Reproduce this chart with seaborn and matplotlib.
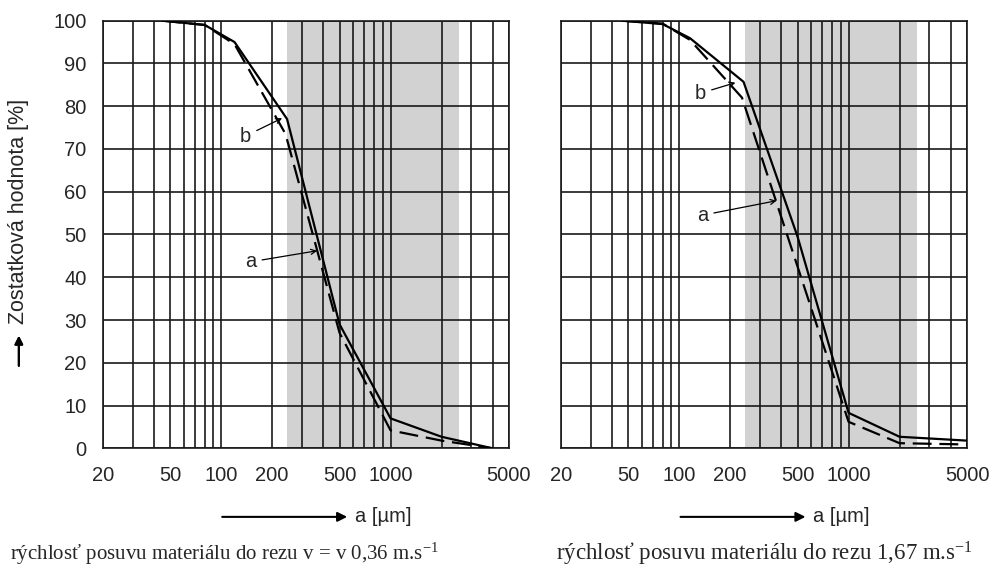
import matplotlib
matplotlib.use('Agg')
import matplotlib.pyplot as plt
from matplotlib.ticker import NullFormatter
import seaborn as sns
import pandas as pd

# velkost castic a [um] a zostatkova hodnota [%]
x_left_b = [45, 80, 120, 245, 500, 1000, 2000, 4000]
y_left_b = [100, 99, 95, 77, 29, 7, 2.7, 0]
x_left_a = [45, 80, 120, 240, 500, 1000, 2000, 4000]
y_left_a = [100, 99, 94.5, 73.5, 27, 4.2, 1.8, 0]

x_right_b = [46, 80, 116, 240, 500, 1000, 2000, 5000]
y_right_b = [100, 99.2, 95.9, 85.7, 49.5, 8.3, 2.7, 1.8]
x_right_a = [46, 80, 116, 235, 500, 1000, 2000, 5000]
y_right_a = [100, 99.3, 95.5, 82, 42.5, 6.2, 1.2, 0.9]

shade = (245, 2550)
major_x = [20, 50, 100, 200, 500, 1000, 5000]
minor_x = [30, 40, 60, 70, 80, 90, 300, 400, 600, 700, 800, 900, 2000, 3000, 4000]
y_ticks = list(range(0, 101, 10))

captions = ['rýchlosť posuvu materiálu do rezu v = v 0,36 m.s$\\mathrm{^{-1}}$',
            'rýchlosť posuvu materiálu do rezu 1,67 m.s$\\mathrm{^{-1}}$']

# (text, text pos, arrow tip) for labels a/b
notes_left = [('b', (139, 73), (229, 77.2)), ('a', (149, 43.6), (369, 46.2))]
notes_right = [('b', (133, 83), (215, 85.5)), ('a', (137, 54.5), (376, 57.9))]

sns.set_style('white')
plt.rcParams['font.family'] = ['Liberation Sans', 'DejaVu Sans']
plt.rcParams['mathtext.fontset'] = 'custom'
plt.rcParams['mathtext.rm'] = 'Liberation Serif'

fig = plt.figure(figsize=(9.92, 5.68), dpi=100)
ax1 = fig.add_axes([0.1035, 0.2107, 0.4096, 0.7529])
ax2 = fig.add_axes([0.5652, 0.2107, 0.4096, 0.7529])

gc = '#1a1a1a'
panels = [(ax1, x_left_a, y_left_a, x_left_b, y_left_b, notes_left),
          (ax2, x_right_a, y_right_a, x_right_b, y_right_b, notes_right)]

for ax, xa, ya, xb, yb, notes in panels:
    df = pd.DataFrame({'a_um': xb + xa,
                       'zost': yb + ya,
                       'krivka': ['b'] * len(xb) + ['a'] * len(xa)})
    ax.axvspan(shade[0], shade[1], color='#d2d2d2', lw=0, zorder=0)
    sns.lineplot(data=df, x='a_um', y='zost', style='krivka',
                 dashes={'b': '', 'a': (8.5, 3.5)}, color='black',
                 lw=1.6, legend=False, ax=ax, zorder=3)
    ax.set_xscale('log')
    ax.set_xlim(20, 5000)
    ax.set_ylim(0, 100)
    ax.set_xticks(major_x, labels=[str(v) for v in major_x])
    ax.set_xticks(minor_x, minor=True)
    ax.xaxis.set_minor_formatter(NullFormatter())
    ax.set_yticks(y_ticks)
    ax.set_axisbelow(True)
    ax.grid(which='both', axis='x', color=gc, lw=1.2)
    ax.grid(which='major', axis='y', color=gc, lw=1.2)
    ax.tick_params(which='major', axis='y', direction='out', length=6,
                   width=1.2, color=gc, pad=5.5, labelsize=14.5)
    ax.tick_params(which='major', axis='x', direction='out', length=4.5,
                   width=1.2, color=gc, pad=8, labelsize=14.5)
    ax.tick_params(which='minor', length=0)
    for s in ax.spines.values():
        s.set_color(gc)
        s.set_linewidth(1.2)
    ax.set_xlabel('')
    ax.set_ylabel('')
    for txt, pos, tip in notes:
        ax.annotate(txt, xy=tip, xytext=pos, fontsize=14.5, ha='center', va='center',
                    arrowprops=dict(arrowstyle='->', lw=0.9, color='black',
                                    shrinkA=2, shrinkB=0, mutation_scale=9),
                    zorder=5)

ax2.tick_params(axis='y', labelleft=False)

# y label with arrow
fig.text(0.019, 0.627, 'Zostatková hodnota [%]', rotation=90, fontsize=15.5,
         ha='center', va='center')
fig.add_artist(plt.annotate('', xy=(0.019, 0.409), xytext=(0.019, 0.356),
                            xycoords='figure fraction',
                            arrowprops=dict(arrowstyle='-|>', lw=1.5, color='black',
                                            mutation_scale=12, shrinkA=0, shrinkB=0)))

# x labels with arrows
for x0 in [0.224, 0.686]:
    ax1.annotate('', xy=(x0 + 0.126, 0.090), xytext=(x0, 0.090),
                 xycoords='figure fraction',
                 arrowprops=dict(arrowstyle='-|>', lw=1.5, color='black',
                                 mutation_scale=14, shrinkA=0, shrinkB=0))
    fig.text(x0 + 0.134, 0.090, 'a [µm]', fontsize=14.5, ha='left', va='center')

fig.text(0.010, 0.025, captions[0], fontsize=15, family='Liberation Serif',
         ha='left', va='center')
fig.text(0.560, 0.025, captions[1], fontsize=16.5, family='Liberation Serif',
         ha='left', va='center')

fig.savefig('out.png', dpi=100)
